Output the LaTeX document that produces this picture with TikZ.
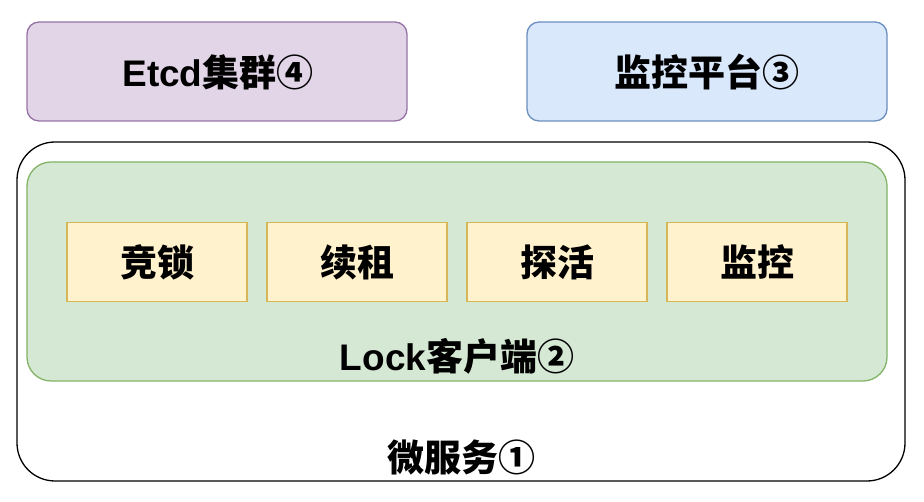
\documentclass[tikz,border=0pt]{standalone}
\usepackage{fontspec}
\setmainfont{Liberation Sans}
\newfontfamily\cjk{Noto Sans CJK SC}
\definecolor{purpfill}{HTML}{E1D5E7}
\definecolor{purpline}{HTML}{9673A6}
\definecolor{bluefill}{HTML}{DAE8FC}
\definecolor{blueline}{HTML}{6C8EBF}
\definecolor{greenfill}{HTML}{D5E8D4}
\definecolor{greenline}{HTML}{82B366}
\definecolor{yelfill}{HTML}{FFF2CC}
\definecolor{yelline}{HTML}{D6B656}
\tikzset{
  box/.style={draw, line width=1.3pt, rounded corners=12pt},
  lbl/.style={font=\fontsize{37}{40}\selectfont\bfseries, inner sep=0pt},
  ybox/.style={draw=yelline, fill=yelfill, line width=1.3pt, minimum width=180pt, minimum height=79pt, inner sep=0pt, font=\fontsize{37}{40}\selectfont\bfseries\cjk},
}
\begin{document}
\begin{tikzpicture}[x=1pt,y=1pt]
\useasboundingbox (0,0) rectangle (924,502);
% top boxes
\draw[box, draw=purpline, fill=purpfill] (27,480) rectangle (407,381);
\node[lbl] (etcd) at (218,430) {Etcd{\cjk 集群④}};
\draw[box, draw=blueline, fill=bluefill] (527,480) rectangle (887,381);
\node[lbl] (mon) at (707,430) {\cjk 监控平台③};
% microservice
\draw[draw=black, line width=1.3pt, fill=white, rounded corners=38pt] (17,360) rectangle (905,21);
\node[lbl] (ms) at (461,44) {\cjk 微服务①};
% lock client
\draw[draw=greenline, fill=greenfill, line width=1.3pt, rounded corners=24pt] (27,340) rectangle (887,121);
\node[lbl] (lock) at (457,146) {Lock{\cjk 客户端②}};
% inner boxes
\node[ybox] (b1) at (157,240) {竞锁};
\node[ybox] (b2) at (357,240) {续租};
\node[ybox] (b3) at (557,240) {探活};
\node[ybox] (b4) at (757,240) {监控};
\end{tikzpicture}
\end{document}
